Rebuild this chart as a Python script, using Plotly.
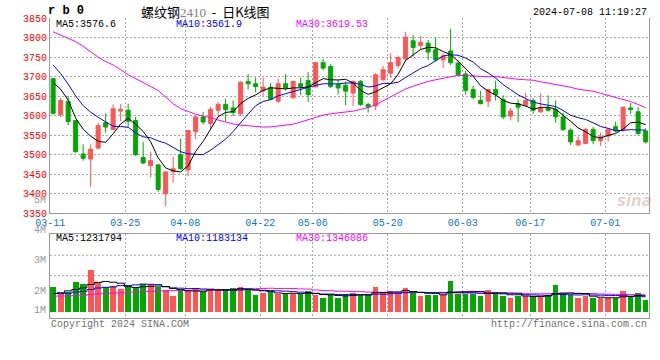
import plotly.graph_objects as go
import pandas as pd

# ---------------- data ----------------
opens = [3695, 3603, 3636, 3588, 3502, 3489, 3517, 3582, 3565, 3612,
         3614, 3588, 3493, 3472, 3474, 3400, 3456, 3500, 3461, 3559,
         3597, 3580, 3614, 3629, 3620, 3605, 3688, 3682, 3664, 3673,
         3637, 3682, 3646, 3682, 3690, 3674, 3736, 3726, 3680, 3678,
         3658, 3688, 3629, 3625, 3692, 3709, 3729, 3746, 3792, 3780,
         3786, 3769, 3743, 3766, 3735, 3707, 3667, 3639, 3637, 3667,
         3642, 3599, 3631, 3626, 3639, 3610, 3620, 3616, 3597, 3563,
         3525, 3529, 3565, 3536, 3548, 3572, 3565, 3620, 3610, 3561]
highs = [3697, 3646, 3650, 3588, 3527, 3527, 3582, 3606, 3629, 3630,
         3631, 3597, 3533, 3508, 3476, 3458, 3495, 3541, 3563, 3600,
         3610, 3623, 3635, 3644, 3639, 3688, 3707, 3698, 3698, 3684,
         3695, 3707, 3690, 3698, 3712, 3737, 3746, 3733, 3692, 3688,
         3690, 3692, 3633, 3709, 3728, 3760, 3754, 3815, 3807, 3804,
         3794, 3800, 3760, 3822, 3741, 3715, 3677, 3664, 3667, 3690,
         3652, 3620, 3642, 3658, 3646, 3657, 3652, 3639, 3608, 3568,
         3547, 3569, 3571, 3557, 3567, 3585, 3622, 3633, 3622, 3568]
lows = [3603, 3597, 3576, 3505, 3485, 3417, 3514, 3557, 3563, 3586,
        3571, 3497, 3476, 3442, 3405, 3368, 3429, 3462, 3445, 3540,
        3578, 3565, 3599, 3586, 3599, 3599, 3667, 3660, 3650, 3640,
        3633, 3664, 3644, 3653, 3635, 3672, 3716, 3671, 3654, 3627,
        3625, 3625, 3608, 3614, 3690, 3697, 3722, 3742, 3752, 3769,
        3743, 3739, 3722, 3730, 3703, 3654, 3642, 3629, 3622, 3639,
        3591, 3588, 3584, 3624, 3605, 3608, 3610, 3582, 3562, 3525,
        3523, 3527, 3527, 3523, 3534, 3557, 3559, 3605, 3551, 3529]
closes = [3606, 3639, 3585, 3508, 3491, 3514, 3575, 3571, 3618, 3616,
          3586, 3500, 3479, 3485, 3411, 3456, 3464, 3464, 3562, 3597,
          3584, 3616, 3629, 3616, 3608, 3686, 3682, 3675, 3673, 3642,
          3682, 3671, 3688, 3675, 3654, 3736, 3722, 3675, 3671, 3663,
          3688, 3629, 3622, 3705, 3718, 3736, 3749, 3801, 3775, 3788,
          3763, 3743, 3753, 3736, 3705, 3665, 3647, 3631, 3667, 3654,
          3597, 3612, 3622, 3639, 3614, 3620, 3614, 3597, 3564, 3533,
          3536, 3565, 3536, 3546, 3565, 3561, 3622, 3616, 3554, 3533]
volumes = [1957000, 1390000, 1555000, 2350000, 2195000, 3319000, 2250000, 1930000, 2030000, 1792000,
           1957000, 1930000, 2195000, 2195000, 1930000, 1710000, 1235000, 1710000, 1710000, 1875000,
           1555000, 1792000, 1710000, 1792000, 1875000, 1957000, 1710000, 1308000, 1472000, 1555000,
           1390000, 1500000, 1390000, 1390000, 1637000, 1308000, 1070000, 1308000, 1125000, 1445000,
           1500000, 1308000, 1308000, 1957000, 1555000, 1637000, 1390000, 1875000, 1555000, 1235000,
           1308000, 1308000, 1308000, 2432000, 1445000, 1445000, 1445000, 1235000, 1710000, 1472000,
           1235000, 1070000, 1235000, 1235000, 1235000, 1235000, 1308000, 2112000, 1472000, 1308000,
           1070000, 1235000, 1070000, 1070000, 1070000, 1070000, 1637000, 1235000, 1472000, 915000]

# moving-average values at the start of the window (history before 03-11)
ma5_head = [3685, 3668, 3640, 3594]
ma10_head = [3730, 3708, 3681, 3651, 3626, 3609, 3596, 3584, 3573]
ma30_head = [3815, 3807, 3798, 3790, 3778, 3764, 3750, 3739, 3730, 3718,
             3705, 3695, 3684, 3675, 3665, 3647, 3631, 3618, 3610, 3604,
             3599, 3595, 3589, 3584, 3579, 3576, 3574, 3572, 3571]
vma5_head = [1445000, 1500000, 1655000, 1765000]
vma10_head = [1445000, 1445000, 1472000, 1555000, 1610000, 1765000, 1884000, 1939000, 1975000]
vma30_head = [1235000, 1244000, 1253000, 1271000, 1299000, 1353000, 1408000, 1445000, 1472000, 1500000,
              1536000, 1564000, 1591000, 1610000, 1637000, 1655000, 1674000, 1692000, 1701000, 1710000,
              1719000, 1728000, 1737000, 1747000, 1770000, 1790000, 1810000, 1830000, 1850000]

date_tick_labels = ["03-11", "03-25", "04-08", "04-22", "05-06", "05-20", "06-03", "06-17", "07-01"]
date_tick_index = [0, 10, 18, 28, 35, 45, 55, 64, 74]
price_ticks = [3350, 3400, 3450, 3500, 3550, 3600, 3650, 3700, 3750, 3800, 3850]
vol_tick_labels = ["5M", "4M", "3M", "2M", "1M"]

price_ma_labels = ["MA5:3576.6", "MA10:3561.9", "MA30:3619.53"]
vol_ma_labels = ["MA5:1231794", "MA10:1183134", "MA30:1346086"]
title_code = "r b 0"
title_name = "螺纹钢"
title_contract = "2410"
title_kind = "日K线图"
timestamp = "2024-07-08 11:19:27"
copyright_text = "Copyright 2024 SINA.COM"
url_text = "http://finance.sina.com.cn"


def moving_avg(values, n, head):
    rolled = pd.Series(values, dtype=float).rolling(n).mean().tolist()
    return list(head) + rolled[n - 1:]


x = list(range(len(closes)))
ma5 = moving_avg(closes, 5, ma5_head)
ma10 = moving_avg(closes, 10, ma10_head)
ma30 = moving_avg(closes, 30, ma30_head)
vma5 = moving_avg(volumes, 5, vma5_head)
vma10 = moving_avg(volumes, 10, vma10_head)
vma30 = moving_avg(volumes, 30, vma30_head)

# ---------------- styling ----------------
W, H = 660, 360
ML, MR, MT, MB = 50, 11, 18, 42
PW, PH = W - ML - MR, H - MT - MB
RED = "#ff5555"
GREEN = "#00a800"
BLUE = "#0000ff"
MAG = "#ff00ff"
GRID = "#a8a8a8"
FRAME = "#9a9a9a"
MONO = "Liberation Mono"


def xp(px):
    return (px - ML) / PW


def yp(py):
    return (MT + PH - py) / PH


vol_colors = [RED if c >= o else GREEN for o, c in zip(opens, closes)]

fig = go.Figure()
fig.add_trace(go.Candlestick(
    x=x, open=opens, high=highs, low=lows, close=closes,
    increasing=dict(line=dict(color=RED, width=1), fillcolor=RED),
    decreasing=dict(line=dict(color=GREEN, width=1), fillcolor=GREEN),
    whiskerwidth=0, showlegend=False, hoverinfo="skip",
    xaxis="x", yaxis="y"))
for series, col in [(ma30, MAG), (ma10, BLUE), (ma5, "#000000")]:
    fig.add_trace(go.Scatter(x=x, y=series, mode="lines", line=dict(color=col, width=1),
                             showlegend=False, hoverinfo="skip", xaxis="x", yaxis="y"))

fig.add_trace(go.Bar(x=x, y=volumes, marker=dict(color=vol_colors, line=dict(width=0)),
                     width=0.76, showlegend=False, hoverinfo="skip", xaxis="x2", yaxis="y2"))
for series, col in [(vma30, MAG), (vma10, BLUE), (vma5, "#000000")]:
    fig.add_trace(go.Scatter(x=x, y=series, mode="lines", line=dict(color=col, width=1, shape="hvh"),
                             showlegend=False, hoverinfo="skip", xaxis="x2", yaxis="y2"))

grid_x = [i - 0.38 for i in date_tick_index]
xrange_ = [-0.42, 79.45]
main_bottom = yp(213.3)
vol_top = yp(234.3)

fig.update_layout(
    width=W, height=H,
    margin=dict(l=ML, r=MR, t=MT, b=MB, pad=0),
    paper_bgcolor="white", plot_bgcolor="white",
    boxgap=0.24,
    bargap=0,
    font=dict(family=MONO, size=10, color="#000"),
    xaxis=dict(domain=[0, 1], range=xrange_, anchor="y",
               tickmode="array", tickvals=grid_x, ticktext=date_tick_labels,
               tickfont=dict(family=MONO, size=10, color="#0a78c8"),
               ticks="", showgrid=True, gridcolor=GRID, griddash="2px,2px", gridwidth=1,
               showline=True, linecolor=FRAME, linewidth=1, zeroline=False,
               rangeslider=dict(visible=False), fixedrange=True),
    yaxis=dict(domain=[main_bottom, 1], range=[3350, 3850.4], anchor="x",
               tickmode="array", tickvals=price_ticks,
               ticktext=[str(v) for v in price_ticks],
               tickfont=dict(family=MONO, size=10, color="#ff0000"),
               ticks="", showgrid=True, gridcolor=GRID, griddash="2px,2px", gridwidth=1,
               showline=True, mirror=True, linecolor=FRAME, linewidth=1, zeroline=False),
    xaxis2=dict(domain=[0, 1], range=xrange_, anchor="y2", matches="x",
                tickmode="array", tickvals=grid_x, showticklabels=False, ticks="",
                showgrid=True, gridcolor=GRID, griddash="2px,2px", gridwidth=1,
                showline=True, mirror=True, linecolor=FRAME, linewidth=1, zeroline=False),
    yaxis2=dict(domain=[0, vol_top], range=[-510000, 6170000], anchor="x2",
                showticklabels=False, ticks="", showgrid=False,
                showline=True, mirror=True, linecolor=FRAME, linewidth=1, zeroline=False),
)

# dotted horizontal grid lines in the volume panel
for gy in [255.3, 275.7]:
    fig.add_shape(type="line", xref="paper", yref="paper", x0=0, x1=1, y0=yp(gy), y1=yp(gy),
                  line=dict(color=GRID, width=1, dash="2px,2px"), layer="below")

anns = []


def ann(text, px, py, anchor="left", color="#000", size=10, family=MONO, **kw):
    anns.append(dict(text=text, x=xp(px), y=yp(py), xref="paper", yref="paper",
                     xanchor=anchor, yanchor="middle", showarrow=False,
                     font=dict(color=color, size=size, family=family), **kw))


# volume scale labels (as drawn by the original, left of the plot)
for lab, py in zip(vol_tick_labels, [200.5, 230.7, 260.7, 291.0, 310.7]):
    ann(lab, 48, py, anchor="right", color="#999999", size=10)

# MA legends
for lab, px, col in zip(price_ma_labels, [54, 174, 294], ["#000000", BLUE, MAG]):
    ann(lab, px, 24.5, color=col)
for lab, px, col in zip(vol_ma_labels, [54, 174, 294], ["#000000", BLUE, MAG]):
    ann(lab, px, 238.5, color=col)

# header
ann("<b>" + title_code + "</b>", 46, 11.5, size=12)
ann(title_name + '<span style="color:#808080;font-family:Liberation Serif;font-size:13px">'
    + title_contract + "</span>  -  " + title_kind, 139, 11.5, size=13, family="Noto Sans CJK SC")
ann(timestamp, 649, 12.5, anchor="right", size=10)

# footer
ann(copyright_text, 49, 324, color="#707070", size=10)
ann(url_text, 649, 324, anchor="right", color="#707070", size=10)

# watermark
ann("<b><i>sina</i></b>", 634, 201, anchor="center", color="rgba(200,150,150,0.45)", size=15,
    family="DejaVu Sans")

fig.update_layout(annotations=anns)

fig.write_html("out.html", config={"displayModeBar": False, "staticPlot": True},
               post_script="document.body.style.margin='0px';document.body.style.padding='0px';")
